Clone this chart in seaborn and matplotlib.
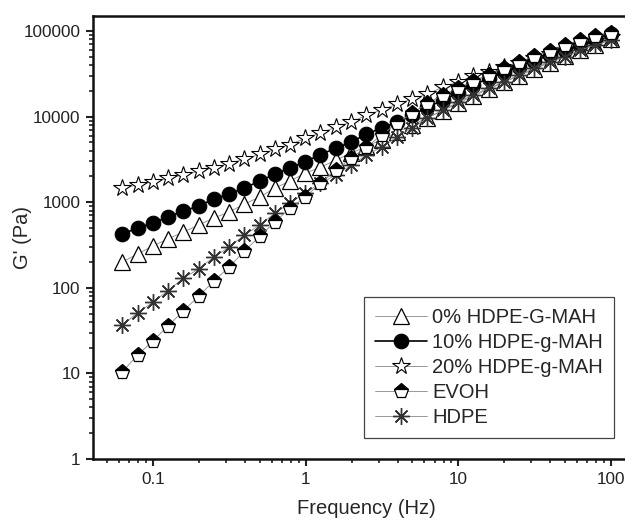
import matplotlib
matplotlib.use("Agg")
import matplotlib.pyplot as plt
import seaborn as sns
import pandas as pd

freq = [0.0628, 0.0791, 0.0996, 0.125, 0.158, 0.199, 0.25, 0.315, 0.397, 0.5,
        0.628, 0.791, 0.996, 1.25, 1.58, 1.99, 2.5, 3.15, 3.97, 5.0,
        6.28, 7.91, 9.96, 12.5, 15.8, 19.9, 25.0, 31.5, 39.7, 50.0,
        62.8, 79.1, 100.0]

g_0pct = [200, 248, 308, 372, 449, 542, 654, 769, 953, 1150,
          1465, 1770, 2190, 2560, 3110, 3760, 4500, 5400, 6600, 8000,
          9700, 11800, 14300, 17400, 21000, 25200, 30200, 36000, 42800, 50500,
          59500, 69500, 81000]
g_10pct = [425, 500, 571, 671, 789, 903, 1090, 1247, 1466, 1770,
           2137, 2513, 2990, 3600, 4300, 5050, 6260, 7360, 8650, 10400,
           12900, 15600, 18900, 23400, 28000, 33000, 38500, 45000, 52000, 60000,
           69500, 80000, 92000]
g_20pct = [1466, 1600, 1740, 1900, 2090, 2300, 2540, 2830, 3200, 3620,
           4150, 4720, 5600, 6430, 7560, 8650, 10440, 11950, 14030, 16060,
           18370, 22170, 25360, 29800, 33500, 37800, 42500, 48000, 54000, 60500,
           68000, 76500, 86000]
g_evoh = [10.4, 16.4, 23.9, 35.8, 53.6, 80, 120, 175, 270, 400,
          587, 855, 1150, 1675, 2380, 3280, 4410, 6100, 8420, 11000,
          14400, 17900, 21600, 26000, 31000, 37000, 43500, 50500, 59000, 68000,
          78500, 88000, 96000]
g_hdpe = [36.7, 50.8, 68, 92, 130, 166, 229, 300, 414, 542,
          748, 980, 1280, 1676, 2080, 2720, 3560, 4410, 5780, 7360,
          9640, 11900, 14800, 17900, 21600, 25400, 30600, 37000, 43500, 49700,
          60000, 68600, 78500]

labels = ["0% HDPE-G-MAH", "10% HDPE-g-MAH", "20% HDPE-g-MAH", "EVOH", "HDPE"]

sns.set_theme(style="ticks")
plt.rcParams['font.family'] = ['Liberation Sans', 'DejaVu Sans']
plt.rcParams['xtick.major.width'] = 1.5
plt.rcParams['ytick.major.width'] = 1.5
plt.rcParams['xtick.minor.width'] = 1.2
plt.rcParams['ytick.minor.width'] = 1.2
plt.rcParams['xtick.major.size'] = 5
plt.rcParams['ytick.major.size'] = 5
plt.rcParams['xtick.minor.size'] = 3
plt.rcParams['ytick.minor.size'] = 3
plt.rcParams['xtick.color'] = '#222222'
plt.rcParams['ytick.color'] = '#222222'

fig = plt.figure(figsize=(6.25, 5.21), dpi=100)
ax = fig.add_axes([93/625, 62/521, 547/625, 443/521])

df = pd.DataFrame({"f": freq})

styles = {
    "0% HDPE-G-MAH": dict(y=g_0pct, marker="^", ms=11, mfc="white", mec="black", mew=0.9,
                           color="#888888", lw=0.6),
    "20% HDPE-g-MAH": dict(y=g_20pct, marker="*", ms=13, mfc="white", mec="black", mew=0.8,
                            color="#888888", lw=0.6),
    "10% HDPE-g-MAH": dict(y=g_10pct, marker="o", ms=10.5, mfc="black", mec="black", mew=0.8,
                            color="black", lw=1.2),
    "HDPE": dict(y=g_hdpe, marker=(8, 2, 0), ms=12, mfc="black", mec="#333333", mew=1.0,
                 color="#888888", lw=0.6),
    "EVOH": dict(y=g_evoh, marker="p", ms=11, mfc="black", mec="black", mew=0.9,
                 color="#888888", lw=0.6, fillstyle="top", markerfacecoloralt="white"),
}

handles = {}
for name, st in styles.items():
    st = dict(st)
    yvals = st.pop("y")
    sns.lineplot(x=df["f"], y=yvals, ax=ax, label=name,
                 marker=st.pop("marker"), markersize=st.pop("ms"),
                 markerfacecolor=st.pop("mfc"), markeredgecolor=st.pop("mec"),
                 markeredgewidth=st.pop("mew"), **st)
    handles[name] = ax.lines[-1]

ax.set_xscale("log")
ax.set_yscale("log")
ax.set_xlim(0.0404, 155)
ax.set_ylim(1, 150000)

ax.set_yticks([1, 10, 100, 1000, 10000, 100000])
ax.set_yticklabels(["1", "10", "100", "1000", "10000", "100000"])
ax.set_xticks([0.1, 1, 10, 100])
ax.set_xticklabels(["0.1", "1", "10", "100"])
ax.tick_params(axis="both", which="major", labelsize=12.3, pad=4)

for sp in ax.spines.values():
    sp.set_linewidth(1.8)
    sp.set_color("#111111")

ax.set_xlabel("Frequency (Hz)", fontsize=14.5, labelpad=9)
ax.set_ylabel("G' (Pa)", fontsize=14.5)
ax.yaxis.set_label_coords(-0.112, 0.5)

leg = ax.legend([handles[n] for n in labels], labels, loc="lower left",
                bbox_to_anchor=(0.495, 0.047), fontsize=14.5, frameon=True,
                fancybox=False, framealpha=1, edgecolor="#444444",
                handlelength=2.6, handletextpad=0.25, labelspacing=0.3,
                borderpad=0.55, borderaxespad=0)
leg.get_frame().set_linewidth(0.9)

fig.savefig("out.png", dpi=100)
